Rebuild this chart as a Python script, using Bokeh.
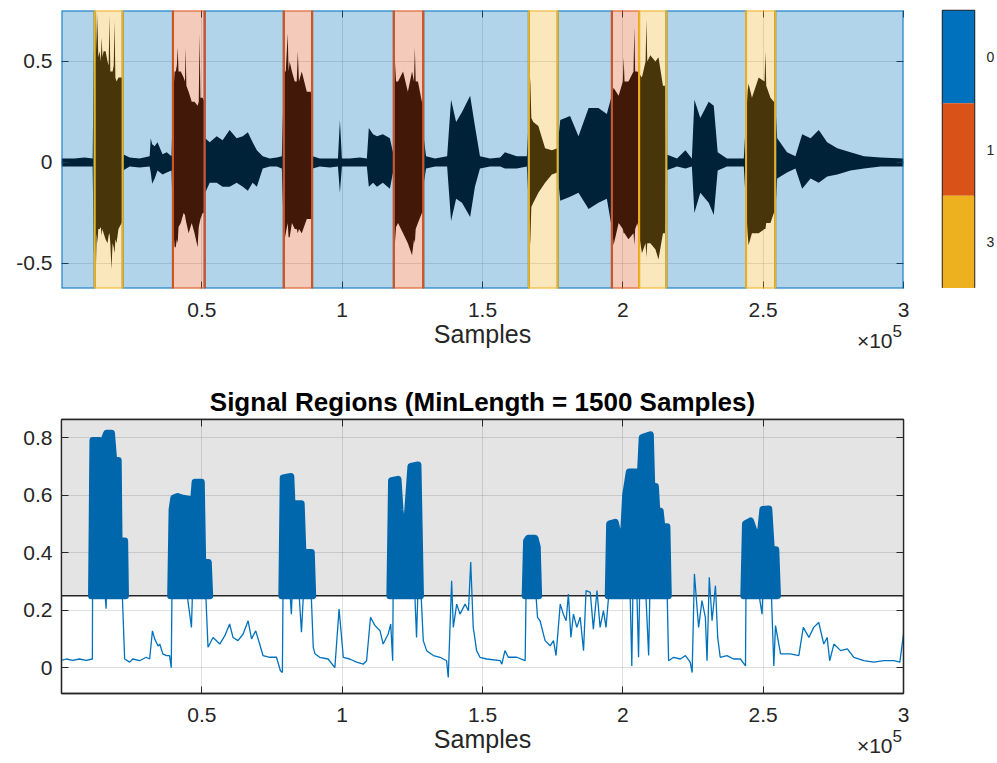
import numpy as np
from bokeh.plotting import figure
from bokeh.models import (BoxAnnotation, Span, Label, LinearAxis, FixedTicker,
                          Range1d, FactorRange)
from bokeh.layouts import column, row
from bokeh.embed import file_html
from bokeh.resources import INLINE

# ---------------- data ----------------
N_SAMPLES = 300000
X_TICKS = [50000, 100000, 150000, 200000, 250000, 300000]
X_TICK_LABELS = ["0.5", "1", "1.5", "2", "2.5", "3"]
TOP_Y_TICKS = [-0.5, 0, 0.5]
TOP_Y_TICK_LABELS = ["-0.5", "0", "0.5"]
BOT_Y_TICKS = [0, 0.2, 0.4, 0.6, 0.8]
BOT_Y_TICK_LABELS = ["0", "0.2", "0.4", "0.6", "0.8"]
TOP_Y_LIMITS = [-0.624, 0.752]
BOT_Y_LIMITS = [-0.09, 0.863]

# waveform envelope (samples, upper, lower)
wave_x = [0, 4600, 8200, 11100, 11500, 12000, 12300, 12550, 12800, 13100, 13600, 14000,
          14300, 14600, 15000, 15700, 16400, 16800, 17100, 17400, 17800, 18200, 18600,
          18900, 19200, 19600, 20300, 21400, 21700, 21900, 24300, 27800, 31400, 31800,
          32300, 33200, 34200, 36000, 37500, 39200, 39700, 40300, 40700, 41100, 41400,
          41700, 42500, 43500, 44000, 44200, 44500, 45300, 46400, 47400, 48500, 48900,
          49200, 49500, 50300, 50900, 51200, 52800, 55300, 57400, 59900, 62400, 64600,
          66400, 68100, 69600, 71700, 74200, 76700, 78500, 79300, 79900, 80600, 80900,
          81300, 82100, 83100, 83800, 84200, 84600, 85600, 87400, 88800, 89100, 89500,
          92000, 95600, 98500, 99200, 99900, 102700, 106300, 108800, 109500, 111000,
          112400, 114500, 117000, 118100, 118600, 119200, 119900, 121700, 123400, 124900,
          125600, 125900, 126200, 127000, 128400, 128800, 129100, 129900, 133100, 137400,
          138800, 140600, 142700, 145600, 147300, 149100, 152700, 156300, 158000, 162200,
          165800, 166600, 167000, 167400, 168100, 169900, 172300, 174700, 176700, 177700,
          181200, 184200, 187800, 191300, 194300, 196400, 196700, 198500, 200000, 200300,
          200600, 202000, 203800, 204100, 204400, 205200, 206800, 208100, 208400, 208700,
          209800, 211600, 212700, 214300, 215000, 215400, 219300, 222300, 224600, 225500,
          227600, 230600, 232400, 233800, 237100, 243100, 244500, 244800, 246000, 248400,
          250500, 250800, 251100, 252600, 253800, 254300, 255000, 258500, 261500, 263900,
          266900, 269800, 272800, 276400, 281100, 285900, 291800, 300000]
wave_hi = [0.02, 0.02, 0.025, 0.02, 0.55, 0.60, 0.75, 0.55, 0.74, 0.52, 0.55, 0.50,
           0.62, 0.52, 0.55, 0.55, 0.50, 0.48, 0.73, 0.45, 0.45, 0.45, 0.48,
           0.70, 0.42, 0.40, 0.42, 0.42, 0.42, 0.04, 0.025, 0.02, 0.03, 0.12,
           0.09, 0.08, 0.10, 0.04, 0.05, 0.03, 0.30, 0.45, 0.45, 0.48, 0.57,
           0.45, 0.45, 0.42, 0.40, 0.57, 0.38, 0.35, 0.30, 0.30, 0.28, 0.30,
           0.64, 0.32, 0.32, 0.30, 0.12, 0.10, 0.13, 0.11, 0.16, 0.12, 0.13,
           0.15, 0.10, 0.06, 0.03, 0.02, 0.025, 0.03, 0.45, 0.45, 0.64, 0.45,
           0.50, 0.45, 0.40, 0.40, 0.55, 0.40, 0.45, 0.35, 0.35, 0.33, 0.03,
           0.02, 0.02, 0.02, 0.21, 0.02, 0.02, 0.025, 0.02, 0.17, 0.14,
           0.13, 0.14, 0.12, 0.05, 0.55, 0.40, 0.40, 0.45, 0.35, 0.45,
           0.40, 0.57, 0.40, 0.40, 0.30, 0.30, 0.12, 0.03, 0.02, 0.03,
           0.31, 0.20, 0.25, 0.33, 0.18, 0.03, 0.02, 0.025, 0.05, 0.03,
           0.03, 0.25, 0.42, 0.22, 0.20, 0.18, 0.07, 0.06, 0.07, 0.21,
           0.23, 0.13, 0.27, 0.27, 0.24, 0.35, 0.37, 0.33, 0.40, 0.52,
           0.40, 0.40, 0.45, 0.67, 0.45, 0.45, 0.42, 0.50, 0.71, 0.50,
           0.53, 0.50, 0.52, 0.38, 0.38, 0.04, 0.02, 0.06, 0.02, 0.31,
           0.22, 0.30, 0.28, 0.05, 0.02, 0.02, 0.36, 0.39, 0.32, 0.42,
           0.40, 0.55, 0.38, 0.32, 0.30, 0.30, 0.12, 0.05, 0.03, 0.14,
           0.12, 0.16, 0.10, 0.07, 0.05, 0.03, 0.025, 0.02]
wave_lo = [-0.02, -0.02, -0.02, -0.02, -0.45, -0.40, -0.50, -0.35, -0.40, -0.33, -0.33, -0.32,
           -0.36, -0.33, -0.35, -0.38, -0.40, -0.36, -0.35, -0.40, -0.53, -0.40, -0.42,
           -0.45, -0.38, -0.40, -0.33, -0.30, -0.30, -0.04, -0.02, -0.025, -0.02, -0.05,
           -0.105, -0.08, -0.04, -0.06, -0.05, -0.04, -0.30, -0.42, -0.42, -0.38, -0.40,
           -0.32, -0.30, -0.25, -0.26, -0.28, -0.30, -0.35, -0.30, -0.35, -0.42, -0.32,
           -0.30, -0.28, -0.25, -0.25, -0.15, -0.10, -0.10, -0.12, -0.12, -0.10, -0.12,
           -0.14, -0.10, -0.12, -0.03, -0.02, -0.02, -0.03, -0.40, -0.35, -0.30, -0.37,
           -0.37, -0.30, -0.33, -0.33, -0.35, -0.33, -0.35, -0.28, -0.28, -0.28, -0.03,
           -0.02, -0.025, -0.02, -0.15, -0.02, -0.02, -0.02, -0.02, -0.12, -0.10,
           -0.12, -0.10, -0.13, -0.05, -0.44, -0.32, -0.30, -0.35, -0.40, -0.46,
           -0.38, -0.40, -0.33, -0.30, -0.25, -0.25, -0.10, -0.03, -0.02, -0.02,
           -0.29, -0.18, -0.20, -0.27, -0.12, -0.03, -0.02, -0.02, -0.03, -0.03,
           -0.02, -0.25, -0.41, -0.22, -0.20, -0.15, -0.10, -0.06, -0.05, -0.19,
           -0.17, -0.15, -0.23, -0.20, -0.18, -0.35, -0.41, -0.30, -0.33, -0.35,
           -0.35, -0.38, -0.35, -0.41, -0.33, -0.30, -0.45, -0.40, -0.47, -0.40,
           -0.40, -0.43, -0.48, -0.35, -0.35, -0.04, -0.02, -0.03, -0.02, -0.25,
           -0.15, -0.20, -0.26, -0.04, -0.02, -0.02, -0.36, -0.41, -0.35, -0.35,
           -0.33, -0.33, -0.30, -0.30, -0.25, -0.25, -0.08, -0.05, -0.03, -0.13,
           -0.08, -0.10, -0.07, -0.06, -0.04, -0.03, -0.02, -0.02]

# labelled regions (samples) and their class
region_start = [11800, 39700, 79200, 118400, 166500, 196100, 205800, 243900]
region_end = [21800, 51000, 89300, 128900, 176800, 205800, 215500, 254300]
region_label = [3, 1, 1, 1, 3, 1, 3, 3]
class_values = [0, 1, 3]
class_colors = ["#0072BD", "#D95319", "#EDB120"]

# signal-region detection
THRESHOLD = 0.25
MIN_LENGTH = 1500
feature_x = [0, 1700, 4000, 6400, 8800, 11000, 11200, 13600, 15900, 16800, 18300, 19600,
             21300, 21700, 22500, 24300, 25400, 27800, 30200, 31400, 32400, 33200, 34400,
             35000, 36100, 37400, 38500, 39100, 39600, 42100, 46300, 47400, 49200, 51000,
             52200, 54000, 56400, 58200, 59900, 61100, 62900, 64700, 66500, 67700, 69200,
             70600, 71800, 74200, 76600, 78000, 78700, 79200, 81900, 83100, 85500, 86700,
             88800, 89700, 90300, 92000, 95000, 97400, 98900, 100400, 102700, 105100,
             107500, 108700, 110100, 111700, 113500, 114600, 116400, 117300, 118000,
             118400, 120600, 122400, 124500, 126500, 127400, 128900, 130100, 132500,
             134900, 137200, 137800, 139000, 139600, 140800, 142000, 143800, 145000,
             145800, 146700, 147900, 149100, 151500, 156300, 156900, 158000, 159200,
             162200, 165200, 165700, 167000, 168000, 169600, 170500, 172300, 174100,
             175300, 176200, 177700, 178800, 179800, 180600, 181500, 182400, 183600,
             184800, 186000, 186900, 188400, 189500, 190800, 191900, 193100, 194000,
             194900, 195500, 199100, 201900, 203200, 204100, 205600, 206600, 209200,
             210100, 212200, 213300, 215500, 216300, 218100, 220500, 222300, 224000,
             224700, 225500, 227000, 228200, 229400, 230000, 230800, 231800, 233000,
             233800, 234700, 237100, 239500, 241900, 243700, 244000, 246200, 249600,
             250800, 252600, 253800, 254400, 256200, 259700, 262700, 264300, 266300,
             268000, 269800, 271600, 272800, 273700, 275200, 277600, 280000, 282300,
             285900, 289400, 293000, 296600, 298700, 300000]
feature_y = [0.025, 0.030, 0.025, 0.030, 0.025, 0.030, 0.70, 0.50, 0.205, 0.60, 0.244, 0.50,
             0.30, 0.244, 0.030, 0.019, 0.030, 0.024, 0.036, 0.030, 0.128, 0.100, 0.075,
             0.082, 0.048, 0.042, 0.042, 0.000, 0.50, 0.45, 0.140, 0.50, 0.244, 0.35,
             0.071, 0.105, 0.082, 0.111, 0.152, 0.105, 0.094, 0.117, 0.163, 0.100, 0.128,
             0.082, 0.042, 0.036, 0.036, -0.011, -0.017, 0.60, 0.186, 0.50, 0.123, 0.35,
             0.30, 0.071, 0.048, 0.036, 0.030, 0.000, 0.204, 0.036, 0.030, 0.019,
             0.012, 0.024, 0.175, 0.146, 0.128, 0.082, 0.117, 0.152, 0.024,
             0.60, 0.40, 0.30, 0.60, 0.105, 0.40, 0.094, 0.059, 0.042,
             0.036, 0.024, -0.034, 0.302, 0.140, 0.221, 0.186, 0.221, 0.198,
             0.367, 0.140, 0.059, 0.036, 0.030, 0.024, 0.012, 0.059, 0.036,
             0.036, 0.024, 0.40, 0.244, 0.40, 0.175, 0.163, 0.094, 0.076,
             0.094, 0.042, 0.221, 0.186, 0.163, 0.256, 0.105, 0.186, 0.140,
             0.175, 0.059, 0.268, 0.262, 0.134, 0.268, 0.140, 0.198, 0.140,
             0.244, 0.45, 0.40, 0.55, 0.006, 0.60, 0.036, 0.60, 0.042,
             0.50, 0.244, 0.45, 0.40, 0.024, 0.036, 0.030, 0.042, 0.019,
             -0.017, 0.326, 0.140, 0.233, 0.175, 0.024, 0.314, 0.163, 0.285,
             0.105, 0.036, 0.042, 0.030, 0.030, 0.006, 0.45, 0.40, 0.186,
             0.50, 0.35, 0.006, 0.146, 0.048, 0.048, 0.042, 0.140, 0.105,
             0.140, 0.157, 0.082, 0.105, 0.024, 0.082, 0.059, 0.065, 0.036,
             0.024, 0.019, 0.024, 0.024, 0.019, 0.117]

# detected signal regions: feature envelope above threshold
signal_x = [
    [10700, 11200, 13600, 15000, 15500, 16100, 17800, 18600, 20200, 20500, 22500, 22800],
    [38900, 39400, 40000, 41400, 42800, 45700, 47100, 47600, 49800, 50300, 52300, 52800],
    [78500, 79000, 81700, 82400, 83100, 85400, 86000, 89000, 89500],
    [117000, 117600, 119900, 120600, 122000, 123400, 124500, 127000, 127500, 127900],
    [165200, 165700, 166300, 168700, 169500, 170000],
    [194800, 195300, 197300, 198400, 200100, 201000, 202300, 204800, 206200, 206900,
     209800, 210300, 211600, 212100, 213300, 213900, 215700, 216200],
    [243100, 243700, 245500, 246900, 249000, 249900, 252000, 252900, 254500, 255100],
]
signal_y = [
    [0.25, 0.79, 0.79, 0.78, 0.80, 0.815, 0.815, 0.72, 0.72, 0.44, 0.44, 0.25],
    [0.25, 0.55, 0.59, 0.595, 0.59, 0.585, 0.585, 0.645, 0.645, 0.366, 0.366, 0.25],
    [0.25, 0.66, 0.665, 0.50, 0.57, 0.57, 0.40, 0.40, 0.25],
    [0.25, 0.65, 0.655, 0.55, 0.40, 0.55, 0.70, 0.705, 0.45, 0.25],
    [0.25, 0.44, 0.45, 0.45, 0.42, 0.25],
    [0.25, 0.50, 0.505, 0.46, 0.43, 0.60, 0.68, 0.68, 0.66, 0.80,
     0.81, 0.63, 0.63, 0.545, 0.545, 0.49, 0.49, 0.25],
    [0.25, 0.50, 0.51, 0.47, 0.465, 0.55, 0.552, 0.41, 0.41, 0.25],
]

# ---------------- style ----------------
FONT = "Liberation Sans"
TXT = "#262626"
BLUE = class_colors[0]
THICK_BLUE = "#0067AC"


def style_axis(ax, ticks, labels, show=True, line_color=TXT, standoff=9):
    ax.ticker = FixedTicker(ticks=ticks)
    ax.major_label_overrides = {t: l for t, l in zip(ticks, labels)}
    ax.major_tick_in = 7
    ax.major_tick_out = 0
    ax.major_tick_line_color = TXT
    ax.major_tick_line_width = 1
    ax.minor_tick_line_color = None
    ax.axis_line_color = line_color
    ax.axis_line_width = 1.3
    ax.major_label_text_font = FONT
    ax.major_label_text_color = TXT
    if show:
        ax.major_label_text_font_size = "21px"
        ax.major_label_standoff = standoff
    else:
        ax.major_label_text_font_size = "0px"
        ax.major_label_text_alpha = 0
        ax.major_label_standoff = 0


def style_xlabel(ax):
    ax.axis_label = "Samples"
    ax.axis_label_text_font = FONT
    ax.axis_label_text_font_size = "25px"
    ax.axis_label_text_font_style = "normal"
    ax.axis_label_text_color = TXT
    ax.axis_label_standoff = 0


def style_grid(p):
    for g in p.grid:
        g.grid_line_color = TXT
        g.grid_line_alpha = 0.15
    p.xgrid.ticker = FixedTicker(ticks=X_TICKS)


def add_exponent(p, y_min, base_side, exp_side):
    # side-panel labels are not clipped by the frame; positions still use data scales
    p.add_layout(Label(x=N_SAMPLES, y=y_min, text="×10", x_offset=-11, y_offset=-52,
                       text_align="right", text_baseline="middle",
                       text_font=FONT, text_font_size="21px", text_color=TXT), base_side)
    p.add_layout(Label(x=N_SAMPLES, y=y_min, text="5", x_offset=-11, y_offset=-42,
                       text_align="left", text_baseline="middle",
                       text_font=FONT, text_font_size="17px", text_color=TXT), exp_side)


# ---------------- top plot ----------------
p1 = figure(frame_width=842, frame_height=278,
            x_range=Range1d(0, N_SAMPLES), y_range=Range1d(*TOP_Y_LIMITS),
            output_backend="svg", toolbar_location=None,
            min_border_left=61, min_border_top=10, min_border_bottom=82, min_border_right=0,
            outline_line_color=None, background_fill_color="white")
p1.add_layout(LinearAxis(), "above")
p1.add_layout(LinearAxis(), "right")
style_axis(p1.below[0], X_TICKS, X_TICK_LABELS, line_color=None, standoff=14)
style_axis(p1.above[0], X_TICKS, X_TICK_LABELS, show=False, line_color=None)
style_axis(p1.left[0], TOP_Y_TICKS, TOP_Y_TICK_LABELS, line_color=None)
style_axis(p1.right[0], TOP_Y_TICKS, TOP_Y_TICK_LABELS, show=False, line_color=None)
style_xlabel(p1.below[0])
style_grid(p1)

p1.varea(x=wave_x, y1=wave_lo, y2=wave_hi, fill_color="black")

# class-0 (background) segments = complement of labelled regions
order = np.argsort(region_start)
gaps = []
cur = 0
for i in order:
    if region_start[i] > cur:
        gaps.append((cur, region_start[i]))
    cur = max(cur, region_end[i])
if cur < N_SAMPLES:
    gaps.append((cur, N_SAMPLES))
for a, b in gaps:
    p1.add_layout(BoxAnnotation(left=a, right=b, fill_color=BLUE, fill_alpha=0.3,
                                line_color=BLUE, line_alpha=1, line_width=2))
for s, e, lab in zip(region_start, region_end, region_label):
    c = class_colors[class_values.index(lab)]
    p1.add_layout(BoxAnnotation(left=s, right=e, fill_color=c, fill_alpha=0.3,
                                line_color=c, line_alpha=1, line_width=2))
add_exponent(p1, TOP_Y_LIMITS[0], "below", "right")

# ---------------- colour bar (class legend) ----------------
cb_factors = [str(v) for v in class_values[::-1]]
cb = figure(frame_width=32, frame_height=278, x_range=Range1d(0, 1),
            y_range=FactorRange(factors=cb_factors),
            output_backend="svg", toolbar_location=None,
            x_axis_location=None, y_axis_location="right",
            min_border_left=30, min_border_top=10, min_border_bottom=0, min_border_right=0,
            outline_line_color=TXT, outline_line_width=1.5)
cb.hbar(y=[str(v) for v in class_values], left=0, right=1, height=1,
        fill_color=class_colors, line_color=None)
cb.grid.visible = False
cb.yaxis.axis_line_color = None
cb.yaxis.major_tick_line_color = None
cb.yaxis.minor_tick_line_color = None
cb.yaxis.major_label_text_font = FONT
cb.yaxis.major_label_text_font_size = "14px"
cb.yaxis.major_label_text_color = TXT
cb.yaxis.major_label_standoff = 6

# ---------------- bottom plot ----------------
p2 = figure(frame_width=842, frame_height=274,
            x_range=Range1d(0, N_SAMPLES), y_range=Range1d(*BOT_Y_LIMITS),
            output_backend="svg", toolbar_location=None,
            min_border_left=61, min_border_top=46, min_border_bottom=67, min_border_right=10,
            title=f"Signal Regions (MinLength = {MIN_LENGTH} Samples)",
            outline_line_color=TXT, outline_line_width=1.3, background_fill_color="white")
p2.title.text_font = FONT
p2.title.text_font_size = "26px"
p2.title.text_font_style = "bold"
p2.title.text_color = "#000000"
p2.title.align = "center"
p2.title.standoff = 6
p2.add_layout(LinearAxis(), "above")
p2.add_layout(LinearAxis(), "right")
style_axis(p2.below[0], X_TICKS, X_TICK_LABELS, standoff=14)
style_axis(p2.above[0], X_TICKS, X_TICK_LABELS, show=False)
style_axis(p2.left[0], BOT_Y_TICKS, BOT_Y_TICK_LABELS)
style_axis(p2.right[0], BOT_Y_TICKS, BOT_Y_TICK_LABELS, show=False)
style_xlabel(p2.below[0])
style_grid(p2)

p2.add_layout(BoxAnnotation(bottom=THRESHOLD, fill_color="#e4e4e4", fill_alpha=1,
                            line_color=None, level="image"))
p2.add_layout(Span(location=THRESHOLD, dimension="width", line_color=TXT,
                   line_width=1.5, level="underlay"))
p2.line(feature_x, feature_y, line_color=BLUE, line_width=1.3)
p2.patches(xs=signal_x, ys=signal_y, fill_color=THICK_BLUE, line_color=THICK_BLUE,
           line_width=7, line_join="round")
add_exponent(p2, BOT_Y_LIMITS[0], "right", "right")

layout = column(row(p1, cb, spacing=0), p2, spacing=0)
open("out.html", "w").write(file_html(layout, INLINE))
